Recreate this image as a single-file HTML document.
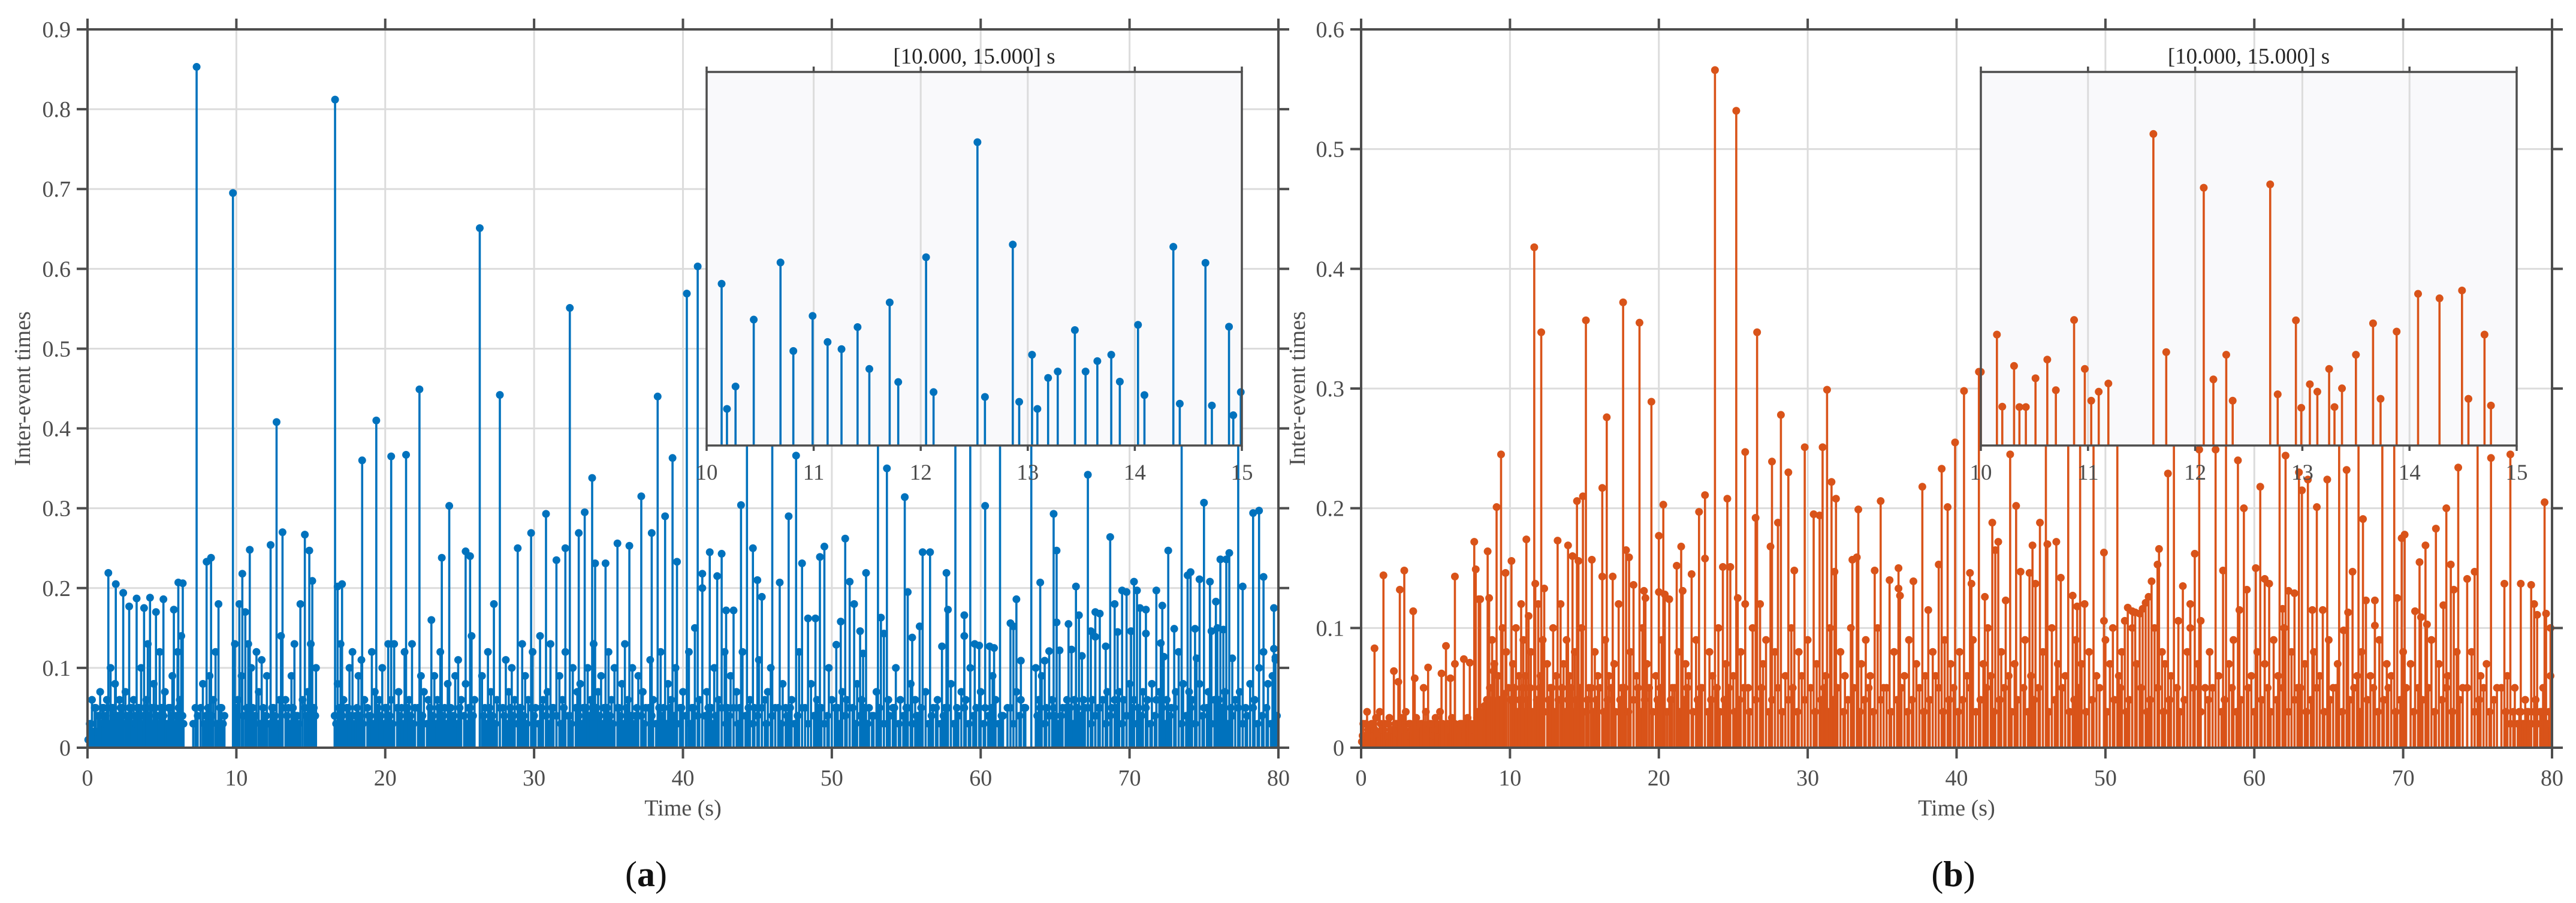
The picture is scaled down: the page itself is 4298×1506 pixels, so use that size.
<!DOCTYPE html>
<html><head><meta charset="utf-8"><title>Inter-event times stem plots</title>
<style>
html,body{margin:0;padding:0;background:#fff;}
svg{display:block;}
text{font-family:"Liberation Serif",serif;}
</style></head>
<body>
<svg id="fig" xmlns="http://www.w3.org/2000/svg" width="4298" height="1506" viewBox="0 0 4298 1506">
<rect x="0" y="0" width="4298" height="1506" fill="#ffffff"/>
<g id="panelA"></g>
<g id="panelB"></g>
</svg>
<script>
// ---------- Panel (a) data ----------
const leftBigT = [7.33,9.77,16.63,26.35,32.4,40.26,40.99,22.3,27.7,38.3,12.7,19.4,18.45,20.4,21.4,24.3,33.9,39.3,37.2,33.4,38.8,30.8,29.8,13.1,14.6,12.3,14.9,10.9,28.9,25.4,25.7,23.8,32.1,31.5,35.6,36.4,37.9,39.6,33.0,34.1,34.8,8.3,8.0,1.4,1.9,2.4,2.8,3.3,3.8,4.2,4.6,5.1,5.8,6.1,6.4,10.4,15.1,16.8,17.1,
44.3,46.0,53.1,58.3,59.3,61.3,63.4,73.5,77.3,
47.6,53.7,67.2,54.9,43.9,60.3,75.0,47.1,64.9,78.3,78.7,68.7,50.9,49.5,44.7,41.8,42.6,49.2,65.1,72.6,56.1,56.6,76.7,76.1,76.5,48.0,41.3,42.3,52.3,57.7,73.9,74.1,74.7,75.4,45.0,51.2,64.0,70.3,79.0,77.6,71.8,70.5,69.5,69.8,66.4,55.1,46.5,45.3,62.4,51.5,69.0,72.2,75.8,42.9,43.4,57.8,70.7,71.1,79.7,67.7,68.0,58.9,66.6,48.4,48.9,53.3,50.6,62.0,62.2,65.1,65.9,55.9,74.4,73.0,75.9,76.3,51.9,67.4,69.2,70.1,75.5,71.1,53.5,67.7,58.9,55.4,68.4,50.3,59.6,59.9,60.6,60.9,65.3,64.6,66.1,57.4,72.1,76.9,79.7,66.8,52.1,62.7,64.3,72.3,74.5,79.8];
const leftBigV = [0.853,0.695,0.812,0.651,0.551,0.569,0.603,0.449,0.442,0.44,0.408,0.41,0.36,0.365,0.367,0.303,0.338,0.363,0.315,0.295,0.29,0.293,0.269,0.27,0.267,0.254,0.247,0.248,0.25,0.246,0.24,0.238,0.25,0.235,0.256,0.253,0.269,0.233,0.269,0.231,0.231,0.238,0.233,0.219,0.205,0.194,0.177,0.187,0.175,0.188,0.17,0.186,0.173,0.207,0.206,0.218,0.209,0.202,0.205,
0.42,0.44,0.41,0.43,0.45,0.4,0.42,0.44,0.41,
0.366,0.35,0.342,0.314,0.304,0.303,0.307,0.29,0.293,0.294,0.297,0.264,0.262,0.252,0.25,0.245,0.243,0.239,0.247,0.247,0.245,0.245,0.244,0.236,0.236,0.231,0.218,0.215,0.219,0.219,0.216,0.22,0.211,0.208,0.21,0.208,0.207,0.208,0.214,0.202,0.197,0.197,0.197,0.195,0.202,0.195,0.207,0.189,0.186,0.18,0.18,0.178,0.183,0.172,0.172,0.173,0.175,0.173,0.175,0.17,0.168,0.166,0.166,0.162,0.162,0.163,0.158,0.156,0.152,0.157,0.155,0.152,0.149,0.149,0.15,0.148,0.146,0.146,0.145,0.146,0.146,0.143,0.143,0.139,0.14,0.138,0.127,0.129,0.13,0.128,0.127,0.125,0.122,0.121,0.123,0.127,0.131,0.112,0.124,0.115,0.118,0.109,0.109,0.114,0.112,0.113];
const leftLowT = [0.05,0.15,0.3,0.4,0.55,0.7,0.85,1.0,1.15,1.3,1.55,1.7,1.85,2.0,2.15,2.3,2.55,2.7,2.95,3.1,3.25,3.45,3.6,3.75,3.95,4.05,4.3,4.45,4.7,4.85,5.0,5.2,5.35,5.55,5.7,5.95,6.05,6.2,6.3,6.45,
7.1,7.25,7.6,7.75,7.95,8.2,8.45,8.6,8.8,9.0,9.2,
9.9,10.1,10.2,10.35,10.6,10.7,10.8,11.0,11.2,11.35,11.5,11.7,11.9,12.05,12.5,12.9,13.0,13.3,13.5,13.7,13.9,14.1,14.3,14.45,14.8,15.0,15.2,15.35,
16.6,16.8,17.0,17.2,17.4,17.6,17.8,18.0,18.2,18.4,18.6,18.9,19.1,19.3,19.6,19.8,20.0,20.2,20.4,20.6,20.9,21.1,21.3,21.6,21.8,22.0,22.4,22.6,22.9,23.1,23.3,23.5,23.7,24.0,24.2,24.5,24.7,24.9,25.1,25.4,25.6,25.8,26.0,
26.5,26.7,26.9,27.1,27.3,27.5,27.9,28.1,28.3,28.5,28.7,29.0,29.2,29.4,29.6,29.9,30.1,30.4,30.6,30.9,31.1,31.3,31.7,31.9,32.1,32.4,32.6,32.9,33.1,33.3,33.6,33.8,34.0,34.3,34.5,34.7,35.0,35.2,35.4,35.7,35.9,36.1,36.3,36.6,36.8,37.0,37.3,37.5,37.8,38.0,38.5,38.7,39.0,39.2,39.5,39.8,40.0,40.4,40.6,40.8,41.1,
41.3,41.6,41.9,42.1,42.4,42.8,43.0,43.2,43.6,43.8,44.0,44.5,44.8,45.1,45.5,45.7,45.9,46.2,46.7,46.9,47.3,47.8,48.2,48.6,49.0,49.3,49.8,50.0,50.4,50.7,51.0,51.4,51.7,52.0,52.5,52.8,53.0,53.8,54.1,54.3,54.6,55.0,55.3,55.6,55.8,56.3,56.8,57.1,57.6,58.0,58.4,58.7,59.0,59.3,59.7,60.0,60.3,60.8,61.0,61.5,62.0,62.4,62.7,63.0,
63.7,63.9,64.1,64.4,64.8,65.0,65.5,65.8,66.0,66.3,66.5,66.9,67.2,67.5,67.9,68.2,68.5,68.8,69.0,69.3,69.6,70.0,70.3,70.6,70.9,71.2,71.5,71.8,72.0,72.5,72.8,73.1,73.3,73.6,74.0,74.2,74.7,75.0,75.3,75.7,76.0,76.4,76.8,77.1,77.4,77.8,78.1,78.4,78.7,79.0,79.3,79.6,79.8];
const leftLowV = [0.01,0.03,0.06,0.02,0.05,0.04,0.07,0.05,0.03,0.06,0.1,0.05,0.08,0.04,0.06,0.05,0.07,0.04,0.05,0.06,0.03,0.05,0.1,0.04,0.06,0.13,0.05,0.08,0.04,0.12,0.05,0.07,0.03,0.05,0.09,0.04,0.12,0.06,0.14,0.03,
0.03,0.05,0.05,0.08,0.04,0.09,0.06,0.12,0.18,0.05,0.04,
0.13,0.06,0.18,0.09,0.17,0.05,0.13,0.1,0.04,0.12,0.07,0.11,0.04,0.09,0.05,0.06,0.14,0.06,0.05,0.09,0.13,0.04,0.18,0.06,0.07,0.13,0.05,0.1,
0.04,0.08,0.13,0.06,0.05,0.1,0.12,0.04,0.09,0.11,0.06,0.04,0.12,0.07,0.06,0.1,0.05,0.13,0.06,0.13,0.07,0.05,0.12,0.06,0.13,0.05,0.09,0.07,0.06,0.16,0.09,0.06,0.12,0.05,0.08,0.04,0.09,0.11,0.06,0.08,0.05,0.14,0.06,
0.09,0.05,0.12,0.07,0.18,0.06,0.05,0.11,0.07,0.1,0.06,0.05,0.13,0.09,0.06,0.12,0.05,0.14,0.06,0.07,0.13,0.05,0.09,0.06,0.12,0.04,0.1,0.07,0.08,0.05,0.1,0.06,0.13,0.07,0.09,0.05,0.12,0.06,0.1,0.05,0.08,0.13,0.06,0.1,0.04,0.09,0.07,0.05,0.11,0.06,0.12,0.05,0.08,0.06,0.1,0.05,0.07,0.12,0.05,0.15,0.06,
0.2,0.07,0.05,0.1,0.06,0.12,0.05,0.09,0.07,0.05,0.12,0.06,0.05,0.11,0.06,0.07,0.1,0.05,0.08,0.05,0.06,0.12,0.05,0.08,0.06,0.05,0.1,0.06,0.05,0.07,0.06,0.05,0.08,0.06,0.05,0.04,0.07,0.06,0.05,0.1,0.06,0.05,0.08,0.06,0.04,0.07,0.05,0.06,0.05,0.08,0.05,0.07,0.06,0.1,0.05,0.07,0.05,0.09,0.06,0.04,0.05,0.07,0.06,0.05,
0.1,0.06,0.09,0.05,0.06,0.04,0.05,0.06,0.05,0.06,0.05,0.06,0.05,0.06,0.05,0.06,0.07,0.05,0.06,0.07,0.06,0.08,0.06,0.05,0.07,0.06,0.08,0.06,0.07,0.06,0.05,0.07,0.12,0.08,0.07,0.06,0.08,0.05,0.07,0.06,0.06,0.07,0.05,0.06,0.07,0.05,0.08,0.06,0.1,0.12,0.08,0.09,0.11];
const leftFloorT = [0.22,0.48,0.62,0.78,0.93,1.08,1.22,1.45,1.62,1.78,1.93,2.08,2.22,2.42,2.62,2.82,3.02,3.18,3.35,3.52,3.68,3.85,4.15,4.38,4.55,4.62,4.78,4.92,5.1,5.28,5.45,5.62,5.82,6.12,6.38,
7.4,7.85,8.1,8.35,8.7,8.9,9.1,10.0,10.45,10.9,11.1,11.28,11.6,11.8,12.0,12.2,12.4,12.6,12.8,13.1,13.4,13.6,13.8,14.0,14.2,14.6,14.7,14.9,15.1,15.3,
16.7,16.9,17.1,17.3,17.5,17.7,17.9,18.1,18.3,18.5,18.8,19.0,19.2,19.5,19.7,19.9,20.1,20.3,20.5,20.8,21.0,21.2,21.5,21.7,21.9,22.2,22.5,22.8,23.0,23.2,23.4,23.6,23.9,24.1,24.4,24.6,24.8,25.0,25.3,25.5,25.7,25.9,
26.6,26.8,27.0,27.2,27.4,27.7,28.0,28.2,28.4,28.6,28.9,29.1,29.3,29.5,29.8,30.0,30.3,30.5,30.8,31.0,31.2,31.5,31.8,32.0,32.3,32.5,32.8,33.0,33.2,33.5,33.7,33.9,34.2,34.4,34.6,34.9,35.1,35.3,35.6,35.8,36.0,36.2,36.5,36.7,36.9,37.2,37.4,37.7,37.9,38.2,38.4,38.6,38.9,39.1,39.4,39.6,39.9,40.2,40.5,40.7,41.0,
41.5,41.7,42.0,42.2,42.6,42.9,43.1,43.4,43.7,44.2,44.4,44.7,45.0,45.3,45.6,46.0,46.4,46.6,47.0,47.2,47.5,47.7,48.0,48.4,48.8,49.1,49.5,49.7,50.2,50.5,50.9,51.2,51.6,51.9,52.2,52.4,52.7,53.2,53.5,53.9,54.2,54.5,54.8,55.1,55.4,55.7,56.0,56.5,56.7,57.0,57.3,57.5,57.8,58.2,58.5,58.9,59.2,59.5,59.9,60.2,60.5,60.7,61.2,61.4,61.8,62.2,62.6,62.9,
63.8,64.0,64.3,64.6,64.9,65.2,65.4,65.7,66.2,66.7,67.0,67.4,67.7,68.0,68.4,68.7,69.1,69.5,69.8,70.2,70.5,70.8,71.1,71.4,71.7,72.2,72.4,72.7,73.0,73.5,73.8,74.1,74.4,74.9,75.2,75.5,75.9,76.2,76.6,76.9,77.3,77.6,77.9,78.3,78.6,78.9,79.2,79.5,79.9];
const leftFloorV = [0.03,0.05,0.02,0.04,0.03,0.05,0.04,0.03,0.05,0.04,0.03,0.04,0.05,0.03,0.04,0.05,0.03,0.04,0.05,0.04,0.03,0.05,0.04,0.03,0.05,0.04,0.03,0.05,0.04,0.03,0.05,0.04,0.03,0.05,0.04,
0.04,0.03,0.05,0.04,0.03,0.05,0.03,0.05,0.04,0.03,0.05,0.04,0.03,0.05,0.04,0.03,0.05,0.04,0.03,0.05,0.04,0.03,0.05,0.04,0.03,0.05,0.04,0.03,0.05,0.04,
0.03,0.05,0.04,0.03,0.05,0.04,0.03,0.05,0.04,0.03,0.05,0.04,0.03,0.05,0.04,0.03,0.05,0.04,0.03,0.05,0.04,0.03,0.05,0.04,0.03,0.05,0.04,0.03,0.05,0.04,0.03,0.05,0.04,0.03,0.05,0.04,0.03,0.05,0.04,0.03,0.05,0.04,
0.04,0.03,0.05,0.04,0.03,0.05,0.04,0.03,0.05,0.04,0.03,0.05,0.04,0.03,0.05,0.04,0.03,0.05,0.04,0.03,0.05,0.04,0.03,0.05,0.04,0.03,0.05,0.04,0.03,0.05,0.04,0.03,0.05,0.04,0.03,0.05,0.04,0.03,0.05,0.04,0.03,0.05,0.04,0.03,0.05,0.04,0.03,0.05,0.04,0.03,0.05,0.04,0.03,0.05,0.04,0.03,0.05,0.04,0.03,0.05,0.04,
0.04,0.05,0.03,0.04,0.05,0.03,0.04,0.05,0.03,0.04,0.05,0.03,0.04,0.05,0.03,0.04,0.05,0.03,0.04,0.05,0.03,0.04,0.05,0.03,0.04,0.05,0.03,0.04,0.05,0.03,0.04,0.05,0.03,0.04,0.05,0.03,0.04,0.05,0.03,0.04,0.05,0.03,0.04,0.05,0.03,0.04,0.05,0.03,0.04,0.05,0.03,0.04,0.05,0.03,0.04,0.05,0.03,0.04,0.05,0.03,0.04,0.05,0.03,0.04,0.05,0.03,0.04,0.05,
0.04,0.05,0.03,0.04,0.05,0.03,0.04,0.05,0.03,0.04,0.05,0.03,0.04,0.05,0.03,0.04,0.05,0.03,0.04,0.05,0.03,0.04,0.05,0.03,0.04,0.05,0.03,0.04,0.05,0.03,0.04,0.05,0.03,0.04,0.05,0.03,0.04,0.05,0.03,0.04,0.05,0.03,0.04,0.05,0.03,0.04,0.05,0.03,0.04];
const insetAT = [10.14,10.19,10.27,10.44,10.69,10.81,10.99,11.13,11.26,11.41,11.52,11.71,11.79,12.05,12.12,12.53,12.60,12.86,12.92,13.04,13.09,13.19,13.28,13.44,13.54,13.65,13.78,13.86,14.03,14.09,14.36,14.42,14.66,14.72,14.88,14.92,14.99];
const insetAV = [0.433,0.098,0.158,0.337,0.490,0.253,0.347,0.277,0.258,0.317,0.205,0.383,0.170,0.504,0.143,0.812,0.130,0.538,0.117,0.243,0.098,0.181,0.198,0.309,0.198,0.226,0.243,0.171,0.323,0.135,0.532,0.112,0.489,0.107,0.318,0.081,0.143];
const yTicksA = [0,0.1,0.2,0.3,0.4,0.5,0.6,0.7,0.8,0.9];
const yTickLabelsA = ["0","0.1","0.2","0.3","0.4","0.5","0.6","0.7","0.8","0.9"];

// ---------- Panel (b) data ----------
const rightBigT = [23.77,25.2,11.63,12.1,15.1,17.6,18.7,26.6,19.5,16.5,31.3,28.2,40.5,41.5,9.4,29.8,31.0,25.8,27.6,28.7,39.9,39.0,37.7,31.6,16.2,14.9,14.5,9.1,20.3,23.1,24.6,31.9,34.9,39.4,33.4,22.7,30.4,30.8,26.5,28.0,20.0,11.1,13.2,7.6,27.5,17.8,18.0,15.5,14.6,10.1,13.9,14.2,8.5,1.5,2.9,2.6,3.5,6.3,7.7,21.5,21.2,22.2,23.1,24.3,24.8,33.3,33.0,34.5,36.1,38.8,29.1,31.8,9.7,7.9,8.0,8.6,12.3,11.7,16.2,16.9,18.3,19.0,19.1,20.0,20.4,20.7,21.6,25.3,25.8,26.8,35.5,36.1,36.2,37.1,38.1,41.0,
0.9,2.2,2.5,3.6,4.2,4.5,5.4,5.7,6.0,6.3,6.9,7.3,8.8,8.9,
46.0,47.5,48.3,49.2,50.8,54.6,58.1,61.7,65.7,67.0,68.6,69.4,75.0,
43.6,56.3,57.4,58.9,62.1,77.2,75.9,54.2,63.0,66.2,73.7,63.6,63.2,64.9,60.4,44.0,59.3,64.2,72.9,79.5,42.4,45.6,67.3,72.2,69.9,70.1,42.8,42.6,45.1,46.1,46.7,71.5,53.6,49.9,56.0,71.1,53.5,73.2,60.1,57.9,66.6,44.3,44.9,74.8,74.3,40.9,47.0,60.7,61.0,45.3,53.1,76.8,77.9,78.6,55.2,59.5,62.3,62.7,73.4,47.8,52.9,52.7,52.5,41.9,69.6,67.5,68.1,43.3,72.7,78.8,51.5,51.8,52.0,52.3,55.7,70.8,66.3,63.9,64.6,48.6,48.1,61.9,59.0,79.0,79.6,71.2,51.3,54.9,56.4,49.9,71.6,79.9,68.1,50.5,66.0,62.0];
const rightBigV = [0.566,0.532,0.418,0.347,0.357,0.372,0.355,0.347,0.289,0.276,0.299,0.278,0.298,0.314,0.245,0.251,0.251,0.247,0.239,0.23,0.255,0.233,0.218,0.222,0.217,0.21,0.206,0.201,0.203,0.211,0.208,0.208,0.206,0.201,0.199,0.197,0.195,0.194,0.192,0.188,0.177,0.174,0.173,0.172,0.168,0.165,0.159,0.157,0.156,0.156,0.169,0.16,0.164,0.144,0.148,0.132,0.114,0.143,0.149,0.168,0.152,0.145,0.158,0.151,0.151,0.159,0.157,0.148,0.15,0.153,0.148,0.147,0.146,0.124,0.124,0.125,0.133,0.137,0.143,0.143,0.136,0.131,0.125,0.13,0.128,0.124,0.131,0.125,0.12,0.12,0.14,0.133,0.127,0.139,0.115,0.137,
0.083,0.064,0.055,0.058,0.05,0.067,0.062,0.085,0.058,0.07,0.074,0.071,0.09,0.064,
0.3,0.28,0.31,0.29,0.27,0.3,0.28,0.32,0.29,0.3,0.27,0.31,0.29,
0.245,0.249,0.249,0.24,0.244,0.245,0.242,0.229,0.23,0.232,0.234,0.224,0.215,0.224,0.218,0.202,0.2,0.201,0.2,0.205,0.188,0.188,0.191,0.183,0.175,0.178,0.172,0.165,0.169,0.17,0.172,0.169,0.166,0.163,0.162,0.155,0.153,0.153,0.15,0.148,0.147,0.147,0.146,0.147,0.141,0.146,0.142,0.141,0.137,0.137,0.139,0.137,0.137,0.136,0.135,0.132,0.131,0.129,0.132,0.127,0.126,0.121,0.116,0.126,0.125,0.123,0.123,0.123,0.119,0.12,0.117,0.114,0.113,0.112,0.12,0.114,0.113,0.115,0.115,0.12,0.118,0.116,0.115,0.111,0.112,0.109,0.106,0.106,0.106,0.106,0.103,0.1,0.102,0.1,0.098,0.1];
const rightLowT = [0.05,0.15,0.25,0.4,0.55,0.7,0.85,1.0,1.1,1.25,1.4,1.6,1.75,1.9,2.05,2.3,2.45,2.7,2.85,3.0,3.15,3.3,3.45,3.7,3.85,4.0,4.35,4.5,4.7,4.85,5.0,5.15,5.3,5.55,5.8,5.95,6.1,6.5,6.65,7.0,7.15,7.45,7.6,7.85,8.1,8.3,8.45,8.65,8.95,9.2,9.5,9.75,9.9,
10.2,10.4,10.6,10.75,10.9,11.05,11.25,11.4,11.9,12.05,12.2,12.5,12.7,12.9,13.1,13.4,13.6,13.8,14.0,14.35,14.8,15.3,15.7,15.9,16.4,16.65,17.0,17.3,17.5,18.1,18.5,18.9,19.2,19.8,20.2,20.9,21.3,21.8,22.0,22.5,22.9,23.4,23.6,24.0,24.5,25.0,25.5,26.0,26.3,27.0,27.2,27.8,28.5,28.9,29.4,29.6,30.0,30.6,31.2,31.5,32.2,32.5,32.9,33.6,33.9,34.2,34.7,35.1,35.8,36.5,36.8,37.3,37.9,38.4,38.6,39.2,39.6,40.2,40.7,
41.1,41.8,42.1,42.3,43.0,43.5,43.9,44.6,45.0,45.8,46.4,46.8,47.3,48.0,48.4,48.9,49.4,50.0,50.3,50.9,51.1,51.8,52.1,53.3,53.8,54.0,54.4,55.5,55.7,56.2,56.7,57.0,57.6,58.3,58.6,59.8,60.2,60.7,61.3,61.6,62.5,62.9,63.4,64.0,64.4,65.0,65.3,65.6,66.9,67.2,67.8,68.4,68.9,69.2,70.0,70.5,71.0,71.9,72.4,73.0,73.6,74.0,74.6,75.2,75.6,76.3,77.0,77.5,77.8,78.0,78.2,78.4,78.6,78.9,79.2,79.4,79.7,79.9];
const rightLowV = [0.005,0.02,0.01,0.03,0.015,0.02,0.01,0.025,0.012,0.03,0.015,0.02,0.01,0.025,0.015,0.02,0.012,0.025,0.015,0.03,0.01,0.02,0.015,0.025,0.012,0.02,0.03,0.015,0.02,0.01,0.025,0.015,0.03,0.01,0.02,0.015,0.025,0.015,0.02,0.01,0.025,0.015,0.02,0.03,0.02,0.035,0.04,0.05,0.07,0.06,0.1,0.08,0.05,
0.07,0.1,0.06,0.12,0.09,0.06,0.11,0.08,0.12,0.06,0.09,0.07,0.05,0.1,0.06,0.12,0.07,0.09,0.06,0.08,0.1,0.05,0.08,0.06,0.09,0.06,0.07,0.12,0.05,0.08,0.06,0.1,0.07,0.06,0.09,0.05,0.08,0.07,0.06,0.09,0.05,0.08,0.06,0.1,0.07,0.06,0.08,0.05,0.1,0.07,0.09,0.08,0.06,0.1,0.08,0.06,0.09,0.07,0.06,0.1,0.08,0.06,0.1,0.07,0.09,0.06,0.1,0.05,0.08,0.06,0.09,0.07,0.06,0.08,0.06,0.09,0.07,0.08,0.06,
0.09,0.07,0.1,0.06,0.08,0.06,0.07,0.09,0.06,0.08,0.1,0.07,0.06,0.09,0.07,0.08,0.06,0.09,0.07,0.06,0.08,0.1,0.07,0.1,0.08,0.07,0.06,0.08,0.1,0.07,0.05,0.08,0.06,0.07,0.09,0.06,0.08,0.07,0.09,0.06,0.08,0.05,0.07,0.08,0.06,0.09,0.05,0.07,0.06,0.08,0.06,0.09,0.07,0.06,0.08,0.07,0.05,0.09,0.07,0.06,0.08,0.05,0.08,0.06,0.07,0.05,0.06,0.05,0.03,0.02,0.04,0.03,0.02,0.04,0.03,0.05,0.02,0.06];
const rightFloorT = [0.1,0.32,0.48,0.62,0.78,0.92,1.18,1.32,1.5,1.68,1.82,1.98,2.15,2.38,2.55,2.62,2.78,2.92,3.08,3.22,3.38,3.55,3.62,3.78,3.92,4.1,4.25,4.42,4.6,4.78,4.92,5.08,5.22,5.4,5.48,5.65,5.72,5.88,6.02,6.2,6.3,6.42,6.58,6.75,6.85,6.92,7.08,7.22,7.3,7.38,7.52,7.7,7.78,7.95,8.02,8.2,8.38,8.55,8.75,8.85,9.05,9.3,9.6,
10.05,10.3,10.5,10.65,10.85,11.0,11.15,11.35,11.5,11.8,12.0,12.3,12.6,12.8,13.0,13.25,13.5,13.7,13.9,14.1,14.25,14.45,14.7,14.95,15.2,15.45,15.6,15.8,16.0,16.3,16.55,16.8,17.1,17.4,17.7,17.95,18.3,18.6,18.8,19.05,19.35,19.6,19.9,20.1,20.55,20.8,21.05,21.4,21.7,21.9,22.3,22.6,22.8,23.3,23.5,23.9,24.1,24.4,24.7,25.1,25.4,25.7,26.1,26.5,26.9,27.4,27.6,28.0,28.3,28.7,29.0,29.3,29.8,30.2,30.5,30.9,31.1,31.4,31.7,32.0,32.4,32.7,33.1,33.5,33.8,34.1,34.4,34.9,35.3,35.6,36.0,36.3,36.7,37.0,37.5,37.8,38.2,38.8,39.1,39.5,39.8,40.1,40.4,40.9,
41.3,41.6,42.0,42.5,42.9,43.2,43.7,44.1,44.5,44.8,45.2,45.5,46.2,46.6,47.1,47.6,47.9,48.2,48.7,49.1,49.6,50.1,50.6,51.0,51.4,51.6,52.4,52.8,53.0,53.5,53.9,54.3,54.8,55.0,55.3,55.9,56.4,56.9,57.2,57.8,58.0,58.5,58.8,59.1,59.6,60.0,60.5,60.9,61.1,61.5,61.9,62.3,62.7,63.1,63.5,63.8,64.2,64.7,65.1,65.5,65.9,66.4,66.7,67.1,67.6,68.0,68.3,68.7,69.0,69.5,69.8,70.2,70.7,71.3,71.7,72.1,72.6,72.9,73.3,73.8,74.3,74.8,75.1,75.4,75.8,76.1,76.6,76.9,77.2,77.4,77.7,77.9,78.1,78.3,78.5,78.8,79.0,79.3,79.5,79.8];
const rightFloorV = [0.01,0.02,0.015,0.01,0.02,0.015,0.01,0.02,0.015,0.01,0.02,0.015,0.01,0.02,0.015,0.01,0.02,0.015,0.01,0.02,0.015,0.01,0.02,0.015,0.01,0.02,0.015,0.01,0.02,0.015,0.01,0.02,0.015,0.01,0.02,0.015,0.01,0.02,0.015,0.01,0.02,0.015,0.01,0.02,0.015,0.01,0.02,0.015,0.01,0.02,0.015,0.02,0.025,0.02,0.03,0.025,0.03,0.035,0.03,0.04,0.035,0.04,0.045,
0.04,0.05,0.03,0.04,0.05,0.03,0.04,0.05,0.03,0.04,0.05,0.03,0.04,0.05,0.03,0.04,0.05,0.03,0.04,0.05,0.03,0.04,0.05,0.03,0.04,0.05,0.03,0.04,0.05,0.03,0.04,0.05,0.03,0.04,0.05,0.03,0.04,0.05,0.03,0.04,0.05,0.03,0.04,0.05,0.03,0.04,0.05,0.03,0.04,0.05,0.03,0.04,0.05,0.03,0.04,0.05,0.03,0.04,0.05,0.03,0.04,0.05,0.03,0.04,0.05,0.03,0.04,0.05,0.03,0.04,0.05,0.03,0.04,0.05,0.03,0.04,0.05,0.03,0.04,0.05,0.03,0.04,0.05,0.03,0.04,0.05,0.03,0.04,0.05,0.03,0.04,0.05,0.03,0.04,0.05,0.03,0.04,0.05,0.03,0.04,0.05,0.03,0.04,0.05,0.03,
0.04,0.05,0.03,0.04,0.05,0.03,0.04,0.05,0.03,0.04,0.05,0.03,0.04,0.05,0.03,0.04,0.05,0.03,0.04,0.05,0.03,0.04,0.05,0.03,0.04,0.05,0.03,0.04,0.05,0.03,0.04,0.05,0.03,0.04,0.05,0.03,0.04,0.05,0.03,0.04,0.05,0.03,0.04,0.05,0.03,0.04,0.05,0.03,0.04,0.05,0.03,0.04,0.05,0.03,0.04,0.05,0.03,0.04,0.05,0.03,0.04,0.05,0.03,0.04,0.05,0.03,0.04,0.05,0.03,0.04,0.05,0.03,0.04,0.05,0.03,0.04,0.05,0.03,0.04,0.05,0.03,0.04,0.05,0.03,0.04,0.05,0.03,0.02,0.03,0.02,0.03,0.02,0.03,0.02,0.03,0.02,0.03,0.02,0.03,0.02];
const insetBT = [10.00,10.15,10.20,10.31,10.36,10.42,10.51,10.62,10.70,10.87,10.97,11.03,11.10,11.19,11.61,11.73,12.08,12.17,12.29,12.35,12.70,12.77,12.94,12.99,13.07,13.14,13.25,13.30,13.37,13.50,13.66,13.73,13.88,14.08,14.28,14.49,14.55,14.70,14.76];
const insetBV = [0.197,0.297,0.104,0.213,0.103,0.103,0.180,0.230,0.148,0.336,0.205,0.120,0.144,0.166,0.834,0.250,0.690,0.177,0.243,0.120,0.699,0.137,0.335,0.101,0.164,0.144,0.205,0.103,0.153,0.243,0.327,0.125,0.305,0.406,0.394,0.415,0.125,0.297,0.107];
const yTicksB = [0,0.1,0.2,0.3,0.4,0.5,0.6];
const yTickLabelsB = ["0","0.1","0.2","0.3","0.4","0.5","0.6"];
const xTicks = [0,10,20,30,40,50,60,70,80];
const xTickLabels = ["0","10","20","30","40","50","60","70","80"];
const insetTicks = [10,11,12,13,14,15];
const insetTickLabels = ["10","11","12","13","14","15"];

const NS = "http://www.w3.org/2000/svg";
const AX = "#4d4d4d", GRID = "#dcdcdc";
function mk(parent, tag, attrs, txt) {
  const e = document.createElementNS(NS, tag);
  for (const k in attrs) e.setAttribute(k, attrs[k]);
  if (txt !== undefined) e.textContent = txt;
  parent.appendChild(e);
  return e;
}

function drawPanel(g, cfg) {
  const {L, R, T, B, ymax, yTicks, yLabels, color, sets, inset, letter, letterX, ylabX} = cfg;
  const sx = v => L + (v / 80) * (R - L);
  const sy = v => B - (v / ymax) * (B - T);
  const grid = mk(g, "g", {});
  
  
  xTicks.forEach(t => { if (t > 0 && t < 80) mk(grid, "line", {x1: sx(t), x2: sx(t), y1: T, y2: B, stroke: GRID, "stroke-width": 3}); });
  yTicks.forEach(t => { if (t > 0 && t < ymax) mk(grid, "line", {x1: L, x2: R, y1: sy(t), y2: sy(t), stroke: GRID, "stroke-width": 3}); });
  const stems = mk(g, "g", {});
  
  
  sets.forEach(([ts, vs]) => {
    for (let i = 0; i < ts.length; i++) {
      const x = sx(ts[i]), y = sy(vs[i]);
      const ln = mk(stems, "line", {x1: x, x2: x, y1: B, y2: y, stroke: color, "stroke-width": 3.6});
      
      
      const c = mk(stems, "circle", {cx: x, cy: y, r: 6.5, fill: color});
      
      
    }
  });
  const ig = mk(g, "g", {});
  
  
  const iL = inset.L, iR = inset.R, iT = inset.T, iB = inset.B;
  const isx = v => iL + (v - 10) / 5 * (iR - iL);
  const isy = v => iB - v * (iB - iT);
  mk(ig, "rect", {x: iL, y: iT, width: iR - iL, height: iB - iT, fill: "#f9f9fb"});
  insetTicks.forEach(t => { if (t > 10 && t < 15) mk(ig, "line", {x1: isx(t), x2: isx(t), y1: iT, y2: iB, stroke: GRID, "stroke-width": 3}); });
  for (let i = 0; i < inset.ts.length; i++) {
    const x = isx(inset.ts[i]), y = isy(inset.vs[i]);
    const ln = mk(ig, "line", {x1: x, x2: x, y1: iB, y2: y, stroke: color, "stroke-width": 3.6});
    
    
    const c = mk(ig, "circle", {cx: x, cy: y, r: 6.5, fill: color});
    
    
  }
  mk(ig, "rect", {x: iL, y: iT, width: iR - iL, height: iB - iT, fill: "none", stroke: AX, "stroke-width": 3.5});
  insetTicks.forEach((t, i) => {
    mk(ig, "line", {x1: isx(t), x2: isx(t), y1: iT - 9, y2: iT, stroke: AX, "stroke-width": 3.5});
    mk(ig, "line", {x1: isx(t), x2: isx(t), y1: iB, y2: iB + 9, stroke: AX, "stroke-width": 3.5});
    const tl = mk(ig, "text", {x: isx(t), y: iB + 57, "font-size": 37, fill: AX, "text-anchor": "middle"}, insetTickLabels[i]);
    
    
  });
  const it = mk(ig, "text", {x: (iL + iR) / 2, y: iT - 14, "font-size": 37, fill: "#262626", "text-anchor": "middle"}, "[10.000, 15.000] s");
  
  
  const ax = mk(g, "g", {});
  
  
  mk(ax, "rect", {x: L, y: T, width: R - L, height: B - T, fill: "none", stroke: AX, "stroke-width": 4});
  xTicks.forEach((t, i) => {
    mk(ax, "line", {x1: sx(t), x2: sx(t), y1: B, y2: B + 18, stroke: AX, "stroke-width": 4});
    mk(ax, "line", {x1: sx(t), x2: sx(t), y1: T - 18, y2: T, stroke: AX, "stroke-width": 4});
    const tl = mk(ax, "text", {x: sx(t), y: B + 63, "font-size": 38, fill: AX, "text-anchor": "middle"}, xTickLabels[i]);
    
    
  });
  yTicks.forEach((t, i) => {
    mk(ax, "line", {x1: L - 18, x2: L, y1: sy(t), y2: sy(t), stroke: AX, "stroke-width": 4});
    mk(ax, "line", {x1: R, x2: R + 18, y1: sy(t), y2: sy(t), stroke: AX, "stroke-width": 4});
    const tl = mk(ax, "text", {x: L - 28, y: sy(t) + 13, "font-size": 38, fill: AX, "text-anchor": "end"}, yLabels[i]);
    
    
  });
  const xt = mk(ax, "text", {x: (L + R) / 2, y: B + 113, "font-size": 38, fill: AX, "text-anchor": "middle"}, "Time (s)");
  
  
  const yt = mk(ax, "text", {x: 0, y: 0, "font-size": 38, fill: AX, "text-anchor": "middle", transform: `translate(${ylabX},${(T + B) / 2}) rotate(-90)`}, "Inter-event times");
  
  
  const lt = mk(g, "text", {x: letterX, y: 1478, "font-size": 60, fill: "#111", "text-anchor": "middle"});
  
  
  mk(lt, "tspan", {}, "(");
  mk(lt, "tspan", {"font-weight": "bold"}, letter);
  mk(lt, "tspan", {}, ")");
}

drawPanel(document.getElementById("panelA"), {
  L: 146, R: 2133, T: 49, B: 1247, ymax: 0.9, yTicks: yTicksA, yLabels: yTickLabelsA,
  color: "#0072BD", sets: [[leftFloorT, leftFloorV], [leftLowT, leftLowV], [leftBigT, leftBigV]],
  inset: {L: 1179, R: 2072, T: 120, B: 743, ts: insetAT, vs: insetAV},
  letter: "a", letterX: 1078, ylabX: 50
});
drawPanel(document.getElementById("panelB"), {
  L: 2271, R: 4258, T: 49, B: 1247, ymax: 0.6, yTicks: yTicksB, yLabels: yTickLabelsB,
  color: "#D95319", sets: [[rightFloorT, rightFloorV], [rightLowT, rightLowV], [rightBigT, rightBigV]],
  inset: {L: 3305, R: 4199, T: 120, B: 743, ts: insetBT, vs: insetBV},
  letter: "b", letterX: 3259, ylabX: 2177
});
</script>
</body></html>
